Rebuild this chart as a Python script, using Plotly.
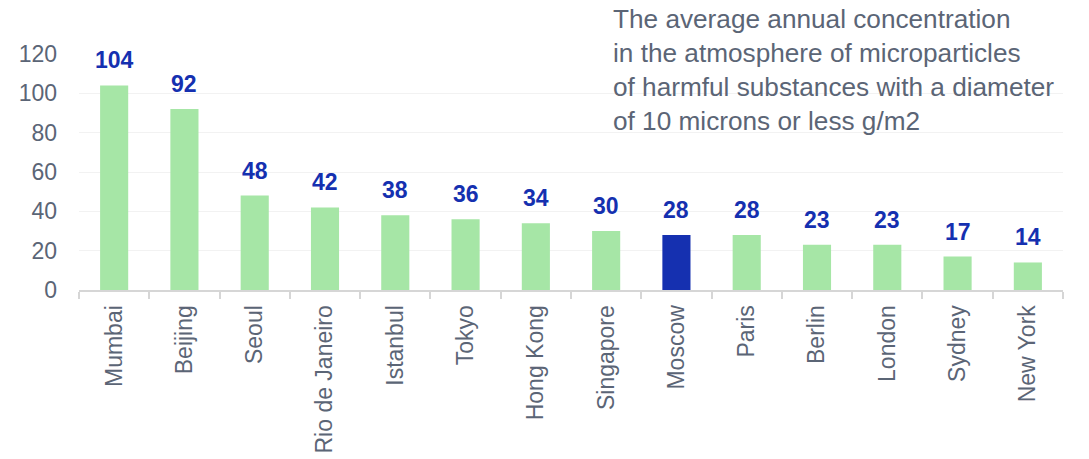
import plotly.graph_objects as go

cities = ["Mumbai", "Beijing", "Seoul", "Rio de Janeiro", "Istanbul", "Tokyo", "Hong Kong",
          "Singapore", "Moscow", "Paris", "Berlin", "London", "Sydney", "New York"]
values = [104, 92, 48, 42, 38, 36, 34, 30, 28, 28, 23, 23, 17, 14]
highlight = "Moscow"
y_ticks = [0, 20, 40, 60, 80, 100, 120]
title_text = ("The average annual concentration<br>in the atmosphere of microparticles<br>"
              "of harmful substances with a diameter<br>of 10 microns or less g/m2")

GREEN = "#a6e6a6"
BLUE = "#1530b0"
GREY = "#5b6576"
FONT = "Liberation Sans, Arial"

colors = [BLUE if c == highlight else GREEN for c in cities]

fig = go.Figure()
fig.add_trace(go.Bar(x=cities, y=values, marker=dict(color=colors, line=dict(width=0)),
                     hoverinfo="x+y"))

for c, v in zip(cities, values):
    fig.add_annotation(x=c, y=v, text=f"<b>{v}</b>", showarrow=False, yanchor="bottom",
                       yshift=10, font=dict(family=FONT, size=23, color=BLUE))

fig.add_annotation(xref="paper", yref="paper", x=(611 - 79) / 984, y=(290 - 2) / 236,
                   xanchor="left", yanchor="top", align="left", showarrow=False,
                   text=title_text,
                   font=dict(family=FONT, size=26.2, color=GREY))

fig.update_layout(
    width=1089, height=459,
    margin=dict(l=79, r=26, t=54, b=169, autoexpand=False),
    plot_bgcolor="white", paper_bgcolor="white",
    bargap=0.6,
    showlegend=False,
    font=dict(family=FONT, size=23, color=GREY),
    xaxis=dict(tickangle=-90, showline=True, linecolor="#d6d6d6", linewidth=2,
               ticks="outside", ticklen=7, tickcolor="#d6d6d6", tickwidth=2,
               tickson="boundaries", showgrid=False, ticklabelstandoff=4,
               automargin=False,
               tickfont=dict(family=FONT, size=23, color=GREY)),
    yaxis=dict(range=[0, 120], tickvals=y_ticks, showgrid=True, gridcolor="#f2f2f2",
               gridwidth=1, zeroline=False, ticks="", ticklabelstandoff=21,
               automargin=False,
               tickfont=dict(family=FONT, size=23, color=GREY)),
)

fig.write_html("out.html")
